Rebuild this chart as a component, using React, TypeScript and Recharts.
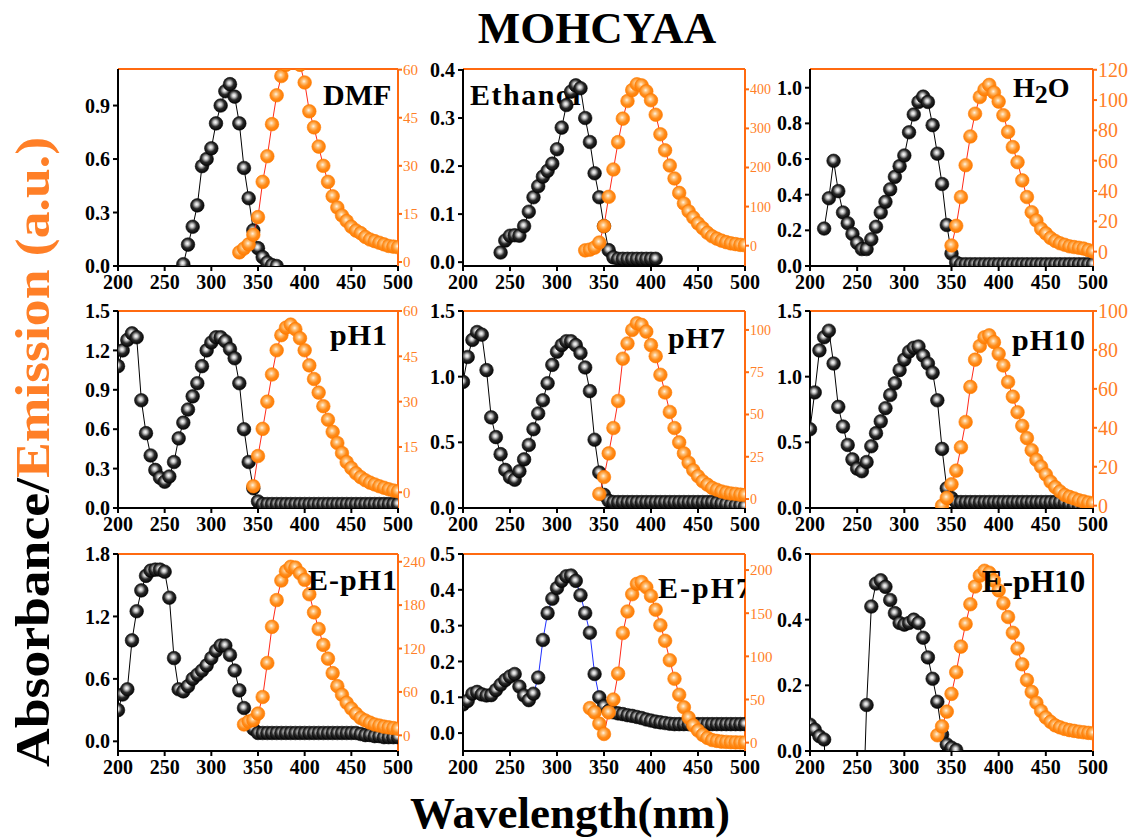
import React from 'react';
import { ComposedChart, Scatter, XAxis, YAxis } from 'recharts';

const N = null;

const WL = [
  200, 205, 210, 215, 220, 225, 230, 235, 240, 245,
  250, 255, 260, 265, 270, 275, 280, 285, 290, 295,
  300, 305, 310, 315, 320, 325, 330, 335, 340, 345,
  350, 355, 360, 365, 370, 375, 380, 385, 390, 395,
  400, 405, 410, 415, 420, 425, 430, 435, 440, 445,
  450, 455, 460, 465, 470, 475, 480, 485, 490, 495,
  500,
];

const X_TICKS = [200, 250, 300, 350, 400, 450, 500];

// ---------- DMF ----------
const dmfAbs = [
  N, N, N, N, N, N, N, N, N, N,
  N, N, N, N, 0.01, 0.12, 0.22, 0.34, 0.56, 0.6,
  0.66, 0.8, 0.9, 0.98, 1.02, 0.95, 0.8, 0.55, 0.38, 0.2,
  0.1, 0.05, 0.02, 0.005, 0.0, N, N, N, N, N,
  N, N, N, N, N, N, N, N, N, N,
  N, N, N, N, N, N, N, N, N, N,
  N,
];
const dmfEm = [
  N, N, N, N, N, N, N, N, N, N,
  N, N, N, N, N, N, N, N, N, N,
  N, N, N, N, N, N, 3.0, 4.2, 5.5, 8.5,
  14, 25, 33, 43, 52, 58, 61.5, 63, 63, 61.5,
  56, 47, 42, 36, 30, 25, 20.5, 17, 14.5, 12.8,
  11, 9.8, 9, 7.8, 7, 6.5, 6, 5.5, 5, 4.8,
  4.6,
];

// ---------- Ethanol ----------
const ethAbs = [
  N, N, N, N, N, N, N, N, 0.02, 0.045,
  0.055, 0.056, 0.055, 0.075, 0.105, 0.135, 0.158, 0.178, 0.19, 0.205,
  0.235, 0.28, 0.327, 0.355, 0.368, 0.362, 0.3, 0.25, 0.185, 0.135,
  0.075, 0.025, 0.01, 0.007, 0.007, 0.007, 0.007, 0.007, 0.007, 0.007,
  0.007, 0.007, N, N, N, N, N, N, N, N,
  N, N, N, N, N, N, N, N, N, N,
  N,
];
const ethEm = [
  N, N, N, N, N, N, N, N, N, N,
  N, N, N, N, N, N, N, N, N, N,
  N, N, N, N, N, N, -12, -10, -5, 8,
  50, 125, 195, 265, 325, 370, 398, 413, 410, 395,
  372, 335, 285, 244, 205, 172, 135, 108, 88, 72,
  57, 45, 33, 24, 18, 13, 9, 6, 4, 2,
  1,
];

// ---------- H2O ----------
const h2oAbs = [
  N, N, N, 0.21, 0.38, 0.59, 0.42, 0.3, 0.24, 0.18,
  0.13, 0.095, 0.095, 0.15, 0.22, 0.3, 0.36, 0.43, 0.5, 0.56,
  0.62, 0.75, 0.85, 0.92, 0.95, 0.92, 0.79, 0.63, 0.46, 0.23,
  0.07, 0.02, 0.01, 0.01, 0.01, 0.01, 0.01, 0.01, 0.01, 0.01,
  0.01, 0.01, 0.01, 0.01, 0.01, 0.01, 0.01, 0.01, 0.01, 0.01,
  0.01, 0.01, 0.01, 0.01, 0.01, 0.01, 0.01, 0.01, 0.01, 0.01,
  0.01,
];
const h2oEm = [
  N, N, N, N, N, N, N, N, N, N,
  N, N, N, N, N, N, N, N, N, N,
  N, N, N, N, N, N, N, N, N, N,
  4, 17, 36, 57, 76, 91, 102, 107, 110, 105,
  99, 90, 79, 69, 59, 47, 36, 26, 20.5, 15,
  12, 9, 7, 5.5, 4.5, 3.5, 3, 2.5, 2, 1,
  0,
];

// ---------- pH1 ----------
const ph1Abs = [
  1.08, 1.2, 1.28, 1.33, 1.3, 0.82, 0.57, 0.4, 0.29, 0.23,
  0.2, 0.24, 0.35, 0.53, 0.65, 0.75, 0.85, 0.95, 1.08, 1.2,
  1.26, 1.3, 1.3, 1.27, 1.21, 1.14, 0.95, 0.6, 0.35, 0.15,
  0.05, 0.03, 0.03, 0.03, 0.03, 0.03, 0.03, 0.03, 0.03, 0.03,
  0.03, 0.03, 0.03, 0.03, 0.03, 0.03, 0.03, 0.03, 0.03, 0.03,
  0.03, 0.03, 0.03, 0.03, 0.03, 0.03, 0.03, 0.03, 0.03, 0.03,
  0.03,
];
const ph1Em = [
  N, N, N, N, N, N, N, N, N, N,
  N, N, N, N, N, N, N, N, N, N,
  N, N, N, N, N, N, N, N, N, 2,
  12, 21, 30, 39, 47, 52, 54.5, 55.5, 54, 51,
  47, 42, 37.5, 33, 28.5, 24, 20, 16.3, 13, 10,
  8, 6.3, 5, 4, 3.2, 2.6, 2, 1.5, 1, 0.6,
  0.3,
];

// ---------- pH7 ----------
const ph7Abs = [
  0.96, 1.15, 1.28, 1.34, 1.32, 1.05, 0.69, 0.54, 0.41, 0.29,
  0.235, 0.215, 0.28, 0.37, 0.48, 0.6, 0.72, 0.82, 0.95, 1.09,
  1.19, 1.24, 1.27, 1.27, 1.24, 1.18, 1.07, 0.89, 0.52, 0.27,
  0.1, 0.055, 0.045, 0.045, 0.045, 0.045, 0.045, 0.045, 0.045, 0.045,
  0.045, 0.045, 0.045, 0.045, 0.045, 0.045, 0.045, 0.045, 0.045, 0.045,
  0.045, 0.045, 0.045, 0.045, 0.04, 0.035, 0.03, 0.025, 0.02, 0.02,
  0.015,
];
const ph7Em = [
  N, N, N, N, N, N, N, N, N, N,
  N, N, N, N, N, N, N, N, N, N,
  N, N, N, N, N, N, N, N, N, 3,
  13, 27, 42, 58, 83, 92, 100, 104, 103, 99,
  91, 84.5, 73.5, 63, 51.5, 42, 33.5, 27, 21.5, 17,
  13.5, 10.5, 8.5, 6.6, 5.5, 4.5, 3.8, 3.3, 3, 2.6,
  2.4,
];

// ---------- pH10 ----------
const ph10Abs = [
  0.6, 0.88, 1.2, 1.3, 1.35, 1.1, 0.77, 0.62, 0.48, 0.37,
  0.3, 0.28, 0.35, 0.47, 0.57, 0.66, 0.76, 0.86, 0.95, 1.05,
  1.13, 1.19, 1.22, 1.23, 1.16, 1.1, 1.03, 0.82, 0.45, 0.15,
  0.075, 0.045, 0.045, 0.045, 0.045, 0.045, 0.045, 0.045, 0.045, 0.045,
  0.045, 0.045, 0.045, 0.045, 0.045, 0.045, 0.045, 0.045, 0.045, 0.045,
  0.045, 0.045, 0.045, 0.045, 0.04, 0.03, 0.02, 0.015, 0.01, 0.01,
  0.01,
];
const ph10Em = [
  N, N, N, N, N, N, N, N, N, N,
  N, N, N, N, N, N, N, N, N, N,
  N, N, N, N, N, N, N, N, 0, 4,
  11, 18, 30, 43, 61, 75, 82, 86.5, 87.5, 84,
  78, 72, 63.5, 56, 48, 41, 34.7, 28.5, 23.5, 20,
  16, 12.3, 9.5, 7.3, 5.5, 4.5, 3.7, 2.8, 2.2, 1.6,
  1.2,
];

// ---------- E-pH1 ----------
const eph1Abs = [
  0.3, 0.45, 0.5, 0.97, 1.25, 1.45, 1.59, 1.64, 1.65, 1.65,
  1.63, 1.38, 0.8, 0.5, 0.48, 0.53, 0.6, 0.64, 0.68, 0.73,
  0.8, 0.87, 0.92, 0.92, 0.83, 0.68, 0.49, 0.32, 0.18, 0.12,
  0.08, 0.08, 0.08, 0.08, 0.08, 0.08, 0.08, 0.08, 0.08, 0.08,
  0.08, 0.08, 0.08, 0.08, 0.08, 0.08, 0.08, 0.08, 0.08, 0.08,
  0.08, 0.08, 0.07, 0.06, 0.06, 0.05, 0.05, 0.04, 0.04, 0.04,
  0.04,
];
const eph1Em = [
  N, N, N, N, N, N, N, N, N, N,
  N, N, N, N, N, N, N, N, N, N,
  N, N, N, N, N, N, N, 15, 19, 21,
  30, 53, 100, 150, 187, 214, 227, 233, 232, 224,
  215, 195, 170, 147, 125, 106, 86, 68, 56, 45,
  37, 30, 24, 20.5, 17.5, 15, 13.5, 12, 11, 10,
  9,
];

// ---------- E-pH7 ----------
const eph7Abs = [
  0.08, 0.09, 0.11, 0.115, 0.108, 0.105, 0.106, 0.12, 0.135, 0.148,
  0.158, 0.165, 0.13, 0.105, 0.092, 0.11, 0.155, 0.26, 0.335, 0.375,
  0.405, 0.425, 0.438, 0.44, 0.425, 0.385, 0.335, 0.28, 0.165, 0.1,
  0.075, 0.062, 0.058, 0.055, 0.053, 0.05, 0.048, 0.045, 0.042, 0.038,
  0.035, 0.032, 0.03, 0.028, 0.026, 0.025, 0.025, 0.025, 0.025, 0.025,
  0.025, 0.025, 0.025, 0.025, 0.025, 0.025, 0.025, 0.025, 0.025, 0.025,
  0.025,
];
const eph7Em = [
  N, N, N, N, N, N, N, N, N, N,
  N, N, N, N, N, N, N, N, N, N,
  N, N, N, N, N, N, N, 40, 35, 22,
  10, 35, 50, 80, 127, 152, 172, 184, 186, 180,
  170, 154, 136, 118, 95.5, 74, 55.5, 41, 29, 20,
  14, 9, 5.5, 3, 2, 1.2, 0.8, 0.5, 0.3, 0.2,
  0.2,
];

// ---------- E-pH10 ----------
const eph10Abs = [
  0.08, 0.065, 0.045, 0.035, -0.3, -0.3, -0.3, -0.3, -0.3, -0.3,
  -0.3, -0.3, 0.14, 0.44, 0.51, 0.52, 0.5, 0.46, 0.42, 0.39,
  0.385, 0.39, 0.4, 0.39, 0.345, 0.285, 0.22, 0.15, 0.05, 0.02,
  0.01, 0.003, N, N, N, N, N, N, N, N,
  N, N, N, N, N, N, N, N, N, N,
  N, N, N, N, N, N, N, N, N, N,
  N,
];
const eph10Em = [
  N, N, N, N, N, N, N, N, N, N,
  N, N, N, N, N, N, N, N, N, N,
  N, N, N, N, N, N, N, 8, 12.5, 20,
  29, 40, 53, 64.5, 74.5, 83.5, 89, 91.5, 90.5, 86.5,
  81.5, 75, 68, 60, 52, 44, 36, 30, 24.5, 20.3,
  17, 14.8, 13, 12, 11.2, 10.6, 10.2, 9.8, 9.5, 9.2,
  9,
];

// ---------- tick sets ----------
const absTicks1 = [0, 0.3, 0.6, 0.9];
const absTicks2 = [0, 0.1, 0.2, 0.3, 0.4];
const absTicks3 = [0, 0.2, 0.4, 0.6, 0.8, 1.0];
const absTicks4 = [0, 0.3, 0.6, 0.9, 1.2, 1.5];
const absTicks5 = [0, 0.5, 1.0, 1.5];
const absTicks7 = [0, 0.6, 1.2, 1.8];
const absTicks8 = [0, 0.1, 0.2, 0.3, 0.4, 0.5];
const absTicks9 = [0, 0.2, 0.4, 0.6];

const emTicks1 = [0, 15, 30, 45, 60];
const emTicks2 = [0, 100, 200, 300, 400];
const emTicks3 = [0, 20, 40, 60, 80, 100, 120];
const emTicks5 = [0, 25, 50, 75, 100];
const emTicks6 = [0, 20, 40, 60, 80, 100];
const emTicks7 = [0, 60, 120, 180, 240];
const emTicks8 = [0, 50, 100, 150, 200];
const emTicks9 = [0, 10, 20, 30, 40, 50, 60, 70, 80, 90, 100];

// ---------- layout / style ----------
const FONT = "'Times New Roman', 'Liberation Serif', Times, serif";
const ORANGE_AXIS = '#ff6a10';
const ORANGE_TEXT = '#ff7f27';
const COL_X = [118, 463, 810];
const COL_W = [280, 282, 283];
const ROW_Y = [69, 311, 554];
const PLOT_H = 197;
const LW = 60;
const RW = 50;
const TH = 16;
const BH = 40;

type PanelCfg = {
  col: number;
  row: number;
  abs: (number | null)[];
  em: (number | null)[];
  absDomain: [number, number];
  absTicks: number[];
  emDomain: [number, number];
  emTicks: number[];
  emFont: number; // 0 = no labels
  absLine: string;
};

const panels: PanelCfg[] = [
  { col: 0, row: 0, abs: dmfAbs, em: dmfEm, absDomain: [0, 1.105], absTicks: absTicks1, emDomain: [-1.25, 60.2], emTicks: emTicks1, emFont: 15, absLine: '#000' },
  { col: 1, row: 0, abs: ethAbs, em: ethEm, absDomain: [-0.008, 0.402], absTicks: absTicks2, emDomain: [-52, 452], emTicks: emTicks2, emFont: 14, absLine: '#000' },
  { col: 2, row: 0, abs: h2oAbs, em: h2oEm, absDomain: [0, 1.105], absTicks: absTicks3, emDomain: [-9.5, 120.5], emTicks: emTicks3, emFont: 20, absLine: '#000' },
  { col: 0, row: 1, abs: ph1Abs, em: ph1Em, absDomain: [0, 1.5], absTicks: absTicks4, emDomain: [-5.2, 60], emTicks: emTicks1, emFont: 15, absLine: '#000' },
  { col: 1, row: 1, abs: ph7Abs, em: ph7Em, absDomain: [0, 1.5], absTicks: absTicks5, emDomain: [-5.3, 111.2], emTicks: emTicks5, emFont: 14, absLine: '#000' },
  { col: 2, row: 1, abs: ph10Abs, em: ph10Em, absDomain: [0, 1.5], absTicks: absTicks5, emDomain: [-1.2, 100], emTicks: emTicks6, emFont: 20, absLine: '#000' },
  { col: 0, row: 2, abs: eph1Abs, em: eph1Em, absDomain: [-0.093, 1.8], absTicks: absTicks7, emDomain: [-21.7, 250.7], emTicks: emTicks7, emFont: 15, absLine: '#000' },
  { col: 1, row: 2, abs: eph7Abs, em: eph7Em, absDomain: [-0.05, 0.5], absTicks: absTicks8, emDomain: [-9.7, 218.6], emTicks: emTicks8, emFont: 15, absLine: '#2030ff' },
  { col: 2, row: 2, abs: eph10Abs, em: eph10Em, absDomain: [0, 0.6], absTicks: absTicks9, emDomain: [0, 100], emTicks: emTicks9, emFont: 0, absLine: '#000' },
];

const toPoints = (vals: (number | null)[]) =>
  WL.map((x, i) => ({ x, y: vals[i] })).filter((d) => d.y !== null && d.y !== undefined);

const BlackDot = (p: any) =>
  p.cx == null || p.cy == null ? <g /> : (
    <circle cx={p.cx} cy={p.cy} r={6.8} fill="url(#gBlackDot)" stroke="#050505" strokeWidth={0.6} />
  );
const OrangeDot = (p: any) =>
  p.cx == null || p.cy == null ? <g /> : (
    <circle cx={p.cx} cy={p.cy} r={6.8} fill="url(#gOrangeDot)" stroke="#ff7a00" strokeWidth={0.6} />
  );

function Panel({ cfg }: { cfg: PanelCfg }) {
  const w = COL_W[cfg.col];
  const left = COL_X[cfg.col];
  const top = ROW_Y[cfg.row];
  const W = LW + w + RW;
  const H = TH + PLOT_H + BH;
  const absData = toPoints(cfg.abs);
  const emData = toPoints(cfg.em);
  return (
    <div style={{ position: 'absolute', left: left - LW, top: top - TH, width: W, height: H }}>
      <ComposedChart width={W} height={H} margin={{ top: 0, right: 0, bottom: 0, left: 0 }}>
        <XAxis
          xAxisId="b"
          dataKey="x"
          type="number"
          domain={[200, 500]}
          ticks={X_TICKS}
          allowDataOverflow
          interval={0}
          height={BH}
          stroke="#000"
          strokeWidth={2}
          tickSize={5}
          tickMargin={4}
          tick={{ fill: '#000', fontSize: 20, fontWeight: 700, fontFamily: FONT }}
        />
        <XAxis
          xAxisId="t"
          orientation="top"
          dataKey="x"
          type="number"
          domain={[200, 500]}
          ticks={X_TICKS}
          allowDataOverflow
          interval={0}
          height={TH}
          stroke={ORANGE_AXIS}
          strokeWidth={2}
          tickSize={-4}
          tick={false}
        />
        <YAxis
          yAxisId="a"
          dataKey="y"
          type="number"
          domain={cfg.absDomain}
          ticks={cfg.absTicks}
          allowDataOverflow
          interval={0}
          width={LW}
          stroke="#000"
          strokeWidth={2}
          tickSize={5}
          tickMargin={3}
          tickFormatter={(v: number) => v.toFixed(1)}
          tick={{ fill: '#000', fontSize: 20, fontWeight: 700, fontFamily: FONT }}
        />
        <YAxis
          yAxisId="e"
          orientation="right"
          dataKey="y"
          type="number"
          domain={cfg.emDomain}
          ticks={cfg.emTicks}
          allowDataOverflow
          interval={0}
          width={RW}
          stroke={ORANGE_AXIS}
          strokeWidth={2}
          tickSize={4}
          tickMargin={1}
          tick={cfg.emFont ? { fill: ORANGE_TEXT, fontSize: cfg.emFont, fontFamily: FONT } : false}
        />
        <Scatter
          xAxisId="b"
          yAxisId="a"
          data={absData}
          shape={BlackDot}
          line={{ stroke: cfg.absLine, strokeWidth: 1 }}
          lineType="joint"
          isAnimationActive={false}
        />
        <Scatter
          xAxisId="b"
          yAxisId="e"
          data={emData}
          shape={OrangeDot}
          line={{ stroke: '#ff2a1a', strokeWidth: 1 }}
          lineType="joint"
          isAnimationActive={false}
        />
      </ComposedChart>
    </div>
  );
}

const clipRect = (i: number) => {
  const c = panels[i];
  return { x: COL_X[c.col], y: ROW_Y[c.row], width: COL_W[c.col], height: PLOT_H };
};

const labelStyle = { fontFamily: FONT, fontWeight: 700 as const, fill: '#000' };

export default function App() {
  return (
    <div style={{ position: 'absolute', left: 0, top: 0, width: 1135, height: 839, background: '#fff', overflow: 'hidden' }}>
      <svg width={0} height={0} style={{ position: 'absolute' }}>
        <defs>
          <radialGradient id="gBlackDot" cx="45%" cy="42%" r="60%">
            <stop offset="0%" stopColor="#ffffff" />
            <stop offset="22%" stopColor="#c8c8c8" />
            <stop offset="55%" stopColor="#2a2a2a" />
            <stop offset="100%" stopColor="#000000" />
          </radialGradient>
          <radialGradient id="gOrangeDot" cx="45%" cy="42%" r="60%">
            <stop offset="0%" stopColor="#fff4e6" />
            <stop offset="25%" stopColor="#ffc27a" />
            <stop offset="60%" stopColor="#ff8c1a" />
            <stop offset="100%" stopColor="#ff7a00" />
          </radialGradient>
        </defs>
      </svg>

      {/* background texts */}
      <svg width={1135} height={839} style={{ position: 'absolute', left: 0, top: 0 }}>
        <defs>
          <clipPath id="clipEth">
            <rect {...clipRect(1)} />
          </clipPath>
        </defs>
        <text x={597} y={43} textAnchor="middle" fontSize={45} {...labelStyle}>MOHCYAA</text>
        <text x={570} y={828} textAnchor="middle" fontSize={45} {...labelStyle}>Wavelength(nm)</text>
        <text
          transform="translate(49,452) rotate(-90)"
          textAnchor="middle"
          fontSize={49}
          fontFamily={FONT}
          fontWeight={700}
          textLength={630}
          lengthAdjust="spacingAndGlyphs"
        >
          <tspan fill="#000">Absorbance/</tspan>
          <tspan fill={ORANGE_TEXT}>Emission (a.u.)</tspan>
        </text>
        <g clipPath="url(#clipEth)">
          <text x={470} y={105} fontSize={30} letterSpacing={1.5} {...labelStyle}>Ethanol</text>
        </g>
      </svg>

      {panels.map((p, i) => (
        <Panel key={i} cfg={p} />
      ))}

      {/* foreground labels */}
      <svg width={1135} height={839} style={{ position: 'absolute', left: 0, top: 0, pointerEvents: 'none' }}>
        <defs>
          {panels.map((_, i) => (
            <clipPath id={`clipLbl${i}`} key={i}>
              <rect {...clipRect(i)} />
            </clipPath>
          ))}
        </defs>
        <g clipPath="url(#clipLbl0)">
          <text x={323} y={105} fontSize={30} {...labelStyle}>DMF</text>
        </g>
        <g clipPath="url(#clipLbl2)">
          <text x={1013} y={97} fontSize={28} {...labelStyle}>
            H<tspan dy={6} fontSize={26}>2</tspan><tspan dy={-6}>O</tspan>
          </text>
        </g>
        <g clipPath="url(#clipLbl3)">
          <text x={330} y={345} fontSize={30} letterSpacing={1} {...labelStyle}>pH1</text>
        </g>
        <g clipPath="url(#clipLbl4)">
          <text x={668} y={348} fontSize={30} letterSpacing={1} {...labelStyle}>pH7</text>
        </g>
        <g clipPath="url(#clipLbl5)">
          <text x={1012} y={350} fontSize={30} letterSpacing={1} {...labelStyle}>pH10</text>
        </g>
        <g clipPath="url(#clipLbl6)">
          <text x={308} y={590} fontSize={30} letterSpacing={1} {...labelStyle}>E-pH1</text>
        </g>
        <g clipPath="url(#clipLbl7)">
          <text x={658} y={598} fontSize={30} letterSpacing={2} {...labelStyle}>E-pH7</text>
        </g>
        <g clipPath="url(#clipLbl8)">
          <text x={982} y={592} fontSize={31} {...labelStyle}>E-pH10</text>
        </g>
      </svg>
    </div>
  );
}
